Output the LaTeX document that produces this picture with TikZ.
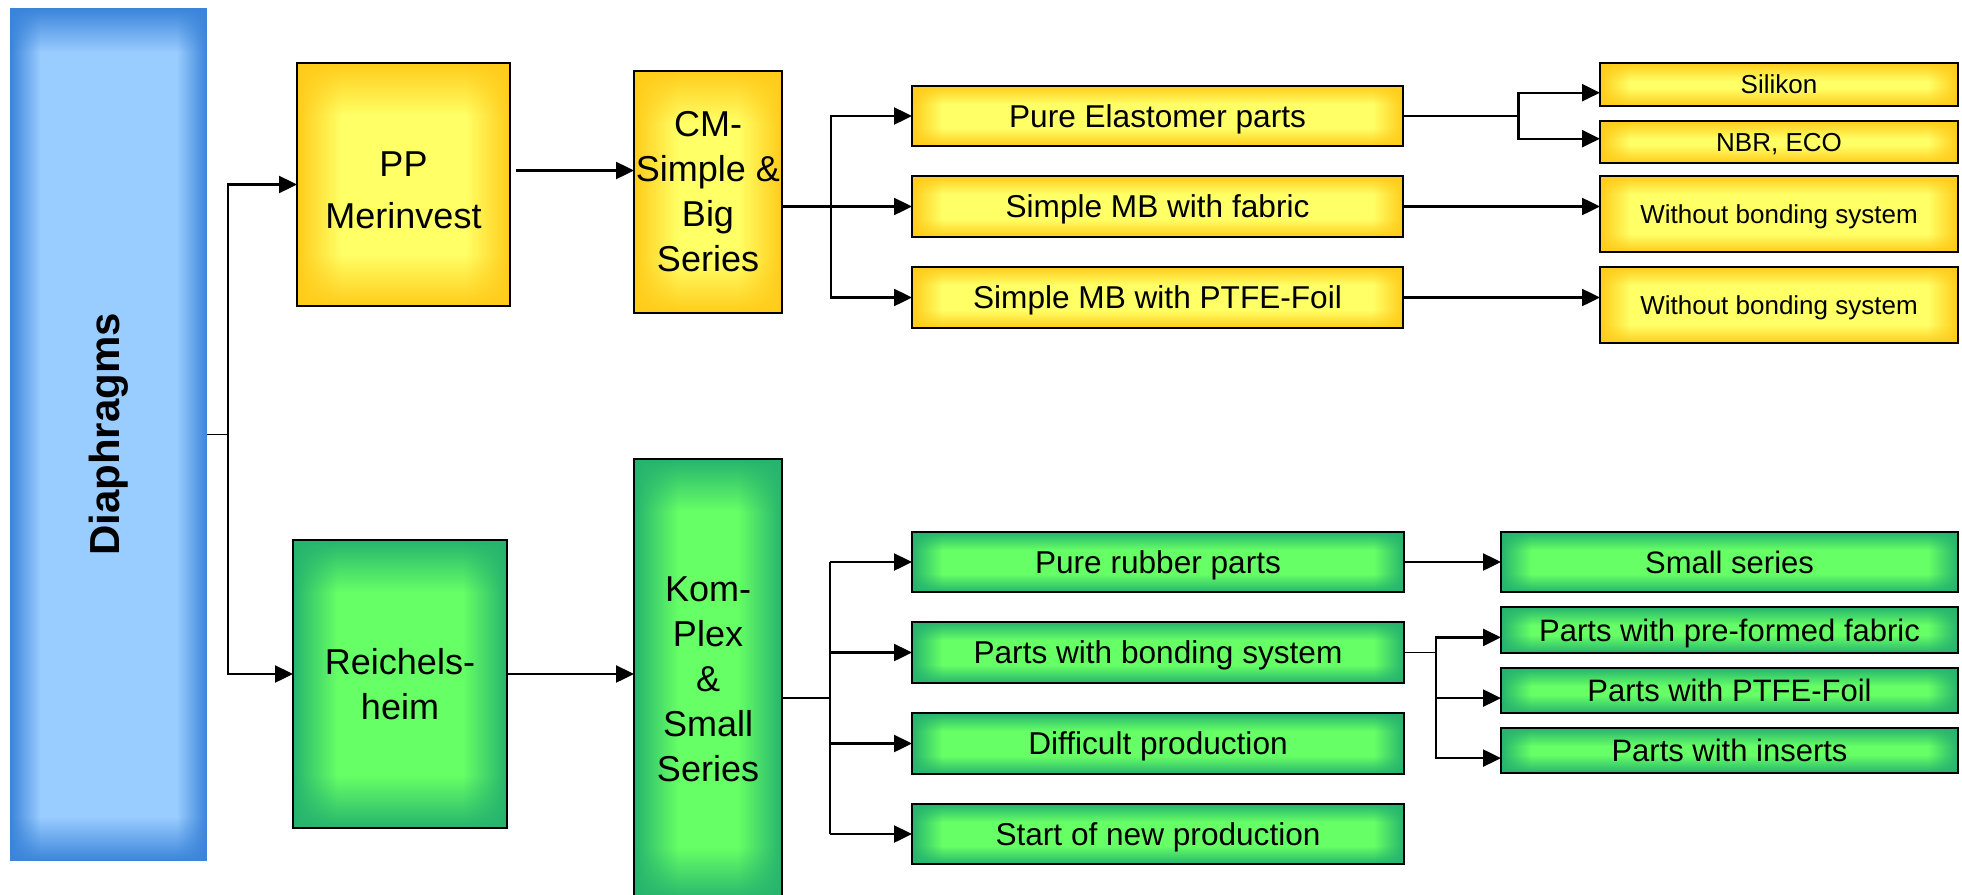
\documentclass[tikz,border=0pt]{standalone}
\usepackage{fontspec}
\setmainfont{Liberation Sans}
\usetikzlibrary{arrows.meta,calc,fadings}
\definecolor{yC}{HTML}{FFFF66}
\definecolor{yE}{HTML}{FFCC1A}
\definecolor{gC}{HTML}{66FF66}
\definecolor{gE}{HTML}{26B46E}
\definecolor{bC}{HTML}{99CCFF}
\definecolor{bE}{HTML}{3A84DA}
\tikzfading[name=fadeL, left color=transparent!0, right color=transparent!100]
\tikzfading[name=fadeR, left color=transparent!100, right color=transparent!0]
\tikzfading[name=fadeT, top color=transparent!0, bottom color=transparent!100]
\tikzfading[name=fadeB, top color=transparent!100, bottom color=transparent!0]
\newcommand\bxn[7]{%
  \pgfmathsetmacro\bxw{(#5-#3)/2}%
  \pgfmathsetmacro\bxh{(#6-#4)/2}%
  \node[#1, minimum width=\bxw pt, minimum height=\bxh pt] (#2) at ({(#3+#5)/2},{(#4+#6)/2}) {#7};}
\tikzset{
  grad/.style n args={4}{fill=#1, path picture={
     \coordinate (pSW) at (path picture bounding box.south west);
     \coordinate (pNE) at (path picture bounding box.north east);
     \fill[#2, path fading=fadeL] (pSW) rectangle ($(pSW |- pNE)+(#3,0)$);
     \fill[#2, path fading=fadeR] ($(pSW -| pNE)-(#3,0)$) rectangle (pNE);
     \fill[#2, path fading=fadeB] (pSW) rectangle ($(pSW -| pNE)+(0,#4)$);
     \fill[#2, path fading=fadeT] ($(pSW |- pNE)-(0,#4)$) rectangle (pNE);
  }},
  basebox/.style={inner sep=0pt, outer sep=0pt, align=center, text=black},
  ybig/.style={basebox, draw=black, line width=1pt, grad={yC}{yE}{22pt}{26pt}},
  gbig/.style={basebox, draw=black, line width=1pt, grad={gC}{gE}{22pt}{26pt}},
  ybox/.style={basebox, draw=black, line width=1pt, grad={yC}{yE}{15pt}{9pt}},
  gbox/.style={basebox, draw=black, line width=1pt, grad={gC}{gE}{15pt}{9pt}},
  bbox/.style={basebox, grad={bC}{bE}{15pt}{22pt}},
  fbig/.style={font=\fontsize{18}{22.5}\selectfont},
  fpp/.style={font=\fontsize{18}{26}\selectfont},
  fmid/.style={font=\fontsize{15.8}{19}\selectfont, text height=11.3pt, text depth=0pt},
  fsm/.style={font=\fontsize{13}{16}\selectfont, text height=9.3pt, text depth=0pt},
  fss/.style={font=\fontsize{15.5}{19}\selectfont, text height=11.1pt, text depth=0pt},
  ln/.style={line width=0.85pt},
  arr/.style={line width=1.2pt, -{Triangle[length=9pt,width=8.5pt]}},
}
\begin{document}
\begin{tikzpicture}[x=0.5pt,y=-0.5pt]
\fill[white] (0,0) rectangle (1962,894);
\useasboundingbox (0,0) rectangle (1962,894);
% left column
\bxn{bbox}{dia}{10}{8}{207}{861}{}
\node[rotate=90, font=\bfseries\fontsize{21}{25}\selectfont] (diat) at (dia.center) {Diaphragms};
% top branch
\bxn{ybig,fpp}{pp}{297}{63}{510}{306}{\rule{0pt}{18pt}PP\\Merinvest}
\bxn{ybig,fbig}{cm}{634}{71}{782}{313}{CM-\\Simple \&\\Big\\Series}
\bxn{ybox,fmid}{pe}{912}{86}{1403}{146}{Pure Elastomer parts}
\bxn{ybox,fmid}{mbf}{912}{176}{1403}{237}{Simple MB with fabric}
\bxn{ybox,fmid}{mbp}{912}{267}{1403}{328}{Simple MB with PTFE-Foil}
\bxn{ybox,fsm}{sil}{1600}{63}{1958}{106}{Silikon}
\bxn{ybox,fsm}{nbr}{1600}{121}{1958}{163}{NBR, ECO}
\bxn{ybox,fsm}{wb1}{1600}{176}{1958}{252}{Without bonding system}
\bxn{ybox,fsm}{wb2}{1600}{267}{1958}{343}{Without bonding system}
% bottom branch
\bxn{gbig,fbig}{rei}{293}{540}{507}{828}{Reichels-\\heim}
\bxn{gbig,fbig}{kom}{634}{459}{782}{900}{Kom-\\Plex\\\&\\Small\\Series}
\bxn{gbox,fmid}{prp}{912}{532}{1404}{592}{Pure rubber parts}
\bxn{gbox,fmid}{pbs}{912}{622}{1404}{683}{Parts with bonding system}
\bxn{gbox,fmid}{dp}{912}{713}{1404}{774}{Difficult production}
\bxn{gbox,fmid}{snp}{912}{804}{1404}{864}{Start of new production}
\bxn{gbox,fss}{ss}{1501}{532}{1958}{592}{Small series}
\bxn{gbox,fss}{ppf}{1501}{607}{1958}{653}{Parts with pre-formed fabric}
\bxn{gbox,fss}{ptf}{1501}{668}{1958}{713}{Parts with PTFE-Foil}
\bxn{gbox,fss}{pin}{1501}{728}{1958}{773}{Parts with inserts}
% connectors: root
\coordinate (j0) at (228,434.5);
\draw[ln] (dia.east) -- (j0);
\draw[arr] (j0) |- (pp.west);
\draw[arr] (j0) |- ([yshift=5pt]rei.west);
\coordinate (a1) at ([shift={(3pt,7pt)}]pp.east);
\draw[arr] (a1) -- (a1 -| cm.west);
\coordinate (a2) at ([yshift=5pt]rei.east);
\draw[arr] (a2) -- (a2 -| kom.west);
% top level 2
\coordinate (j1) at (831,206.5);
\draw[arr] (cm.east |- mbf.west) -- (mbf.west);
\draw[arr] (j1) |- (pe.west);
\draw[arr] (j1) |- (mbp.west);
% top level 3
\coordinate (j2) at (1518.6,116);
\draw[ln] (pe.east) -- (j2);
\draw[arr] (j2) |- ([yshift=-4.1pt]sil.west);
\draw[arr] (j2) |- ([yshift=1.65pt]nbr.west);
\draw[arr] (mbf.east) -- (mbf.east -| wb1.west);
\draw[arr] (mbp.east) -- (mbp.east -| wb2.west);
% bottom level 2
\coordinate (j3) at (830,698);
\draw[ln] (kom.east |- j3) -- (j3);
\draw[ln] (j3 |- prp.west) -- (j3 |- snp.west);
\foreach \t in {prp,pbs,dp,snp} \draw[arr] (j3 |- \t.west) -- (\t.west);
% bottom level 3
\draw[arr] (prp.east) -- (prp.east -| ss.west);
\coordinate (j4) at (1436,652.5);
\draw[ln] (pbs.east) -- (j4);
\draw[arr] (j4) |- ([yshift=-3.7pt]ppf.west);
\draw[arr] (j4) |- ([yshift=-3.8pt]ptf.west);
\draw[arr] (j4) |- ([yshift=-3.8pt]pin.west);
\end{tikzpicture}
\end{document}
